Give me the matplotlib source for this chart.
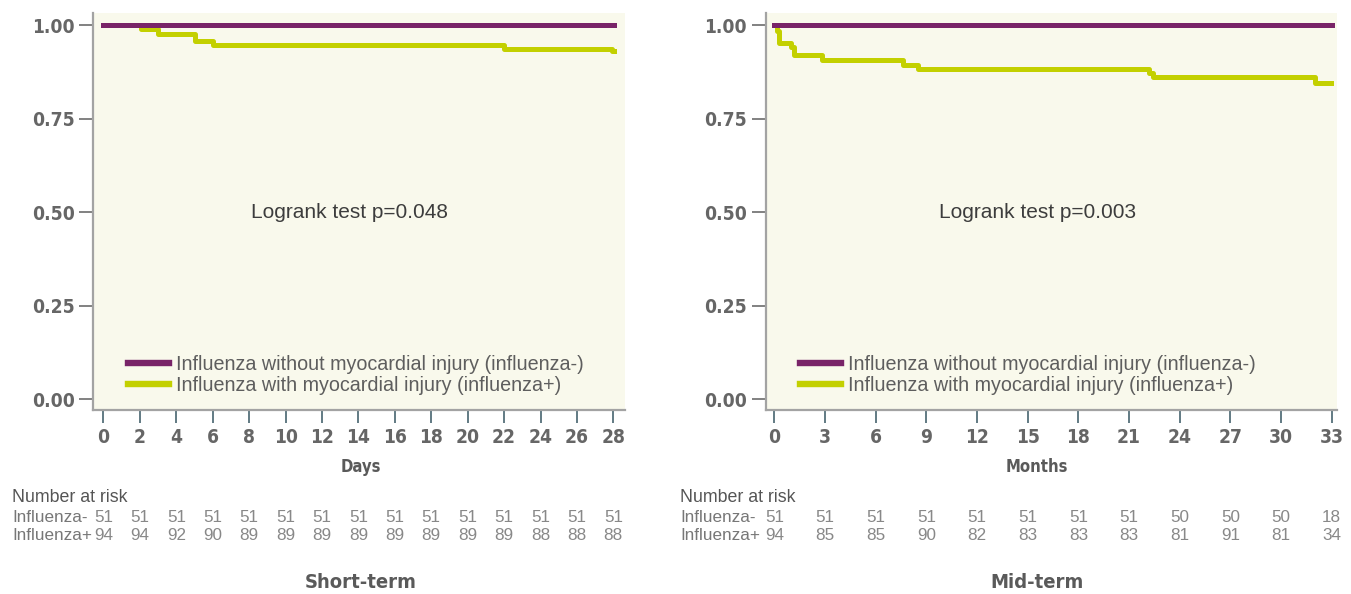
import matplotlib
matplotlib.use("Agg")
import matplotlib.pyplot as plt
from matplotlib.lines import Line2D
from matplotlib.transforms import blended_transform_factory
from matplotlib import font_manager

# ---- data ----
short_ticks = list(range(0, 29, 2))
short_minus_t = [0, 28.03]
short_minus_s = [1.0, 1.0]
short_plus_t = [0, 2.05, 3.0, 5.0, 6.0, 22.0, 27.95, 28.05]
short_plus_s = [1.0, 0.989, 0.976, 0.958, 0.947, 0.935, 0.930, 0.930]
short_risk_minus = [51] * 15
short_risk_plus = [94, 94, 92, 90, 89, 89, 89, 89, 89, 89, 89, 89, 88, 88, 88]

mid_ticks = list(range(0, 34, 3))
mid_minus_t = [0, 33.05]
mid_minus_s = [1.0, 1.0]
mid_plus_t = [0, 0.12, 0.27, 1.0, 1.15, 2.8, 7.6, 8.5, 22.2, 22.4, 32.0, 32.95]
mid_plus_s = [1.0, 0.985, 0.951, 0.94, 0.92, 0.906, 0.893, 0.883, 0.872, 0.862, 0.845, 0.845]
mid_risk_minus = [51, 51, 51, 51, 51, 51, 51, 51, 50, 50, 50, 18]
mid_risk_plus = [94, 85, 85, 90, 82, 83, 83, 83, 81, 91, 81, 34]

y_ticks = [0.0, 0.25, 0.5, 0.75, 1.0]
legend_labels = ["Influenza without myocardial injury (influenza-)",
                 "Influenza with myocardial injury (influenza+)"]

PURPLE = "#792468"
GREEN = "#c3d000"
BG = "#f9f9ec"
REGULAR = ["Liberation Sans", "DejaVu Sans"]
# condensed bold for ticks and axis titles
COND = font_manager.FontProperties(family="DejaVu Sans", stretch="condensed",
                                   weight="bold")

W, H = 1351, 594
fig = plt.figure(figsize=(W / 100, H / 100), dpi=100)


def px_rect(x0, y0, x1, y1):
    return [x0 / W, 1 - y1 / H, (x1 - x0) / W, (y1 - y0) / H]


def fig_xy(x, y):
    return x / W, 1 - y / H


def cprop(size):
    p = COND.copy()
    p.set_size(size)
    return p


def draw_panel(rect, ticks, xlim, minus_t, minus_s, plus_t, plus_s,
               risk_minus, risk_plus, pval, ptext_x, xlabel, xlabel_x,
               title, legend_x, table_x):
    ax = fig.add_axes(rect)
    ax.set_facecolor(BG)
    ax.step(plus_t, plus_s, where="post", color=GREEN, lw=3.6, zorder=3)
    ax.step(minus_t, minus_s, where="post", color=PURPLE, lw=3.6, zorder=4)
    ax.set_xlim(*xlim)
    ax.set_ylim(-0.0294, 1.033)
    ax.set_xticks(ticks)
    ax.set_yticks(y_ticks)
    ax.set_yticklabels(["%.2f" % v for v in y_ticks])
    for side in ["top", "right"]:
        ax.spines[side].set_visible(False)
    for side in ["left", "bottom"]:
        ax.spines[side].set_color("#a3a3a3")
        ax.spines[side].set_linewidth(1.6)
    ax.tick_params(axis="x", length=9, width=1.3, color="#55707a",
                   pad=4, labelcolor="#666666")
    ax.tick_params(axis="y", length=10, width=1.3, color="#777777",
                   pad=3.5, labelcolor="#666666")
    for lab in ax.get_xticklabels() + ax.get_yticklabels():
        lab.set_fontproperties(cprop(13.8))

    ax.text(ptext_x, 0.5, pval, ha="left", va="center", fontsize=15,
            color="#3d3d3d", family=REGULAR)

    handles = [Line2D([], [], color=PURPLE, lw=4.6),
               Line2D([], [], color=GREEN, lw=4.6)]
    ax.legend(handles, legend_labels, loc="lower left",
              bbox_to_anchor=(legend_x, 0.037), frameon=False,
              borderpad=0, borderaxespad=0, handlelength=2.1,
              handletextpad=0.35, labelspacing=0.12,
              prop={"family": REGULAR, "size": 14.2},
              labelcolor="#5e5e5e")

    fig.text(*fig_xy(xlabel_x, 467), xlabel, ha="center", va="center",
             fontproperties=cprop(12), color="#5a5a5a")
    fig.text(*fig_xy(xlabel_x, 583), title, ha="center", va="center",
             fontproperties=cprop(14.5), color="#5a5a5a")

    fig.text(*fig_xy(table_x, 497), "Number at risk", ha="left", va="center",
             family=REGULAR, fontsize=12.8, color="#555555")
    fig.text(*fig_xy(table_x, 517), "Influenza-", ha="left", va="center",
             family=REGULAR, fontsize=12.3, color="#777777")
    fig.text(*fig_xy(table_x, 536), "Influenza+", ha="left", va="center",
             family=REGULAR, fontsize=12.3, color="#777777")
    trans = blended_transform_factory(ax.transData, fig.transFigure)
    for t, a, b in zip(ticks, risk_minus, risk_plus):
        ax.text(t, 1 - 517 / H, str(a), transform=trans, ha="center",
                va="center", fontsize=12.3, color="#888888", family=REGULAR,
                clip_on=False)
        ax.text(t, 1 - 536 / H, str(b), transform=trans, ha="center",
                va="center", fontsize=12.3, color="#888888", family=REGULAR,
                clip_on=False)
    return ax


draw_panel(px_rect(93.3, 12.7, 625, 410), short_ticks, (-0.56, 28.64),
           short_minus_t, short_minus_s, short_plus_t, short_plus_s,
           short_risk_minus, short_risk_plus, "Logrank test p=0.048", 8.08,
           "Days", 361, "Short-term", 0.065, 12)

draw_panel(px_rect(765.7, 12.7, 1337, 410), mid_ticks, (-0.52, 33.32),
           mid_minus_t, mid_minus_s, mid_plus_t, mid_plus_s,
           mid_risk_minus, mid_risk_plus, "Logrank test p=0.003", 9.75,
           "Months", 1037, "Mid-term", 0.060, 680)

fig.savefig("out.png", dpi=100)
